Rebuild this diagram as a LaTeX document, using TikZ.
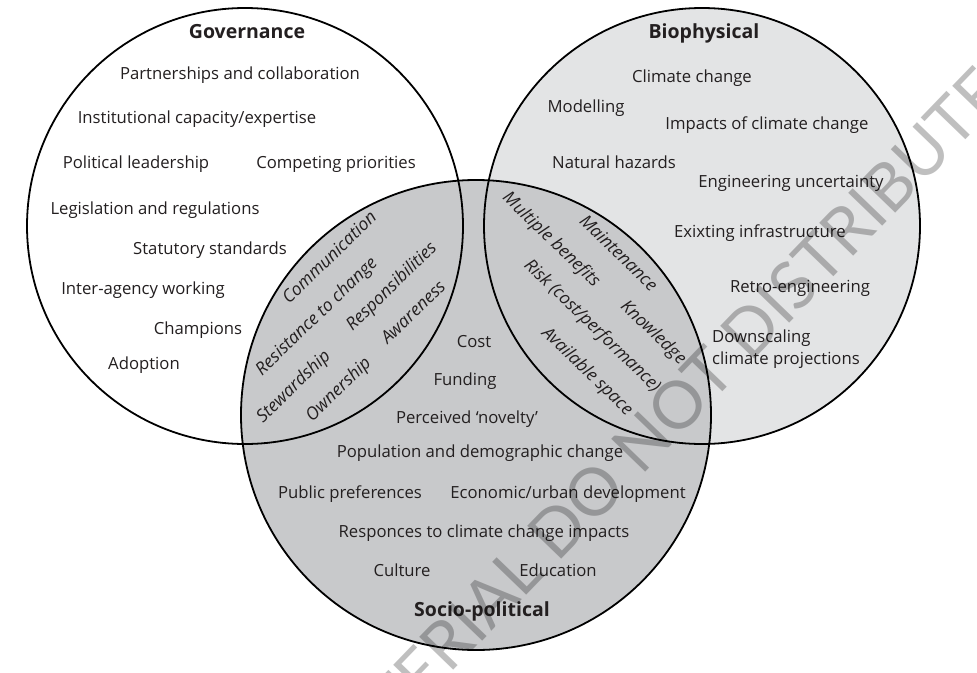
\documentclass[tikz,border=0pt]{standalone}
\usepackage{fontspec}
\setmainfont{Open Sans}
\newfontfamily\wmfont{Lato}
\definecolor{biofill}{HTML}{E3E4E5}
\definecolor{sociofill}{HTML}{C8C9CB}
\definecolor{txt}{HTML}{231F20}
\begin{document}
\begin{tikzpicture}[x=1pt,y=-1pt,
  ring/.style={draw=black, line width=1.8pt},
  lbl/.style={anchor=base, text=txt, inner sep=0pt, font=\fontsize{16.7}{20}\selectfont},
  head/.style={lbl, font=\fontsize{19.5}{23}\selectfont\bfseries},
  upslant/.style={anchor=center, text=txt, inner sep=0pt, rotate=44, font=\fontsize{17.5}{21}\selectfont\itshape},
  downslant/.style={anchor=center, text=txt, inner sep=0pt, rotate=-44, font=\fontsize{17.5}{21}\selectfont\itshape}
]
% canvas
\fill[white] (0,0) rectangle (977,672);
\useasboundingbox (0,0) rectangle (977,672);

% circle centres
\coordinate (govc) at (245,226);
\coordinate (bioc) at (702,226);
\coordinate (socc) at (476,415);

% fills, then outlines on top
\fill[white]     (govc) circle[radius=218pt];
\fill[biofill]   (bioc) circle[radius=218pt];
\fill[sociofill] (socc) circle[radius=235pt];
\draw[ring] (govc) circle[radius=218pt];
\draw[ring] (bioc) circle[radius=218pt];
\draw[ring] (socc) circle[radius=235pt];

% Governance
\node[head] (govt) at (247,38) {Governance};
\node[lbl] (g1) at (240,79) {Partnerships and collaboration};
\node[lbl] (g2) at (197,123) {Institutional capacity/expertise};
\node[lbl] (g3) at (136,168) {Political leadership};
\node[lbl] (g4) at (336,168) {Competing priorities};
\node[lbl] (g5) at (155,214) {Legislation and regulations};
\node[lbl] (g6) at (210,254) {Statutory standards};
\node[lbl] (g7) at (143,294) {Inter-agency working};
\node[lbl] (g8) at (198,334) {Champions};
\node[lbl] (g9) at (144,369) {Adoption};

% Biophysical
\node[head] (biot) at (704,38) {Biophysical};
\node[lbl] (b1) at (692,82) {Climate change};
\node[lbl] (b2) at (586,112) {Modelling};
\node[lbl] (b3) at (767,129) {Impacts of climate change};
\node[lbl] (b4) at (614,168) {Natural hazards};
\node[lbl] (b5) at (791,187) {Engineering uncertainty};
\node[lbl] (b6) at (760,237) {Exixting infrastructure};
\node[lbl] (b7) at (800,292) {Retro-engineering};
\node[lbl, anchor=base west] (b8) at (712,342) {Downscaling};
\node[lbl, anchor=base west] (b9) at (712,364) {climate projections};

% Socio-political
\node[lbl] (s1) at (474,347) {Cost};
\node[lbl] (s2) at (465,385) {Funding};
\node[lbl] (s3) at (467,423) {Perceived ‘novelty’};
\node[lbl] (s4) at (480,457) {Population and demographic change};
\node[lbl] (s5) at (350,498) {Public preferences};
\node[lbl] (s6) at (568,498) {Economic/urban development};
\node[lbl] (s7) at (484,537) {Responces to climate change impacts};
\node[lbl] (s8) at (402,576) {Culture};
\node[lbl] (s9) at (558,576) {Education};
\node[head] (soct) at (482,616) {Socio-political};

% Governance / Socio-political overlap
\node[upslant] (gs1) at (329,257) {Communication};
\node[upslant] (gs2) at (317,317) {Resistance to change};
\node[upslant] (gs3) at (392,287) {Responsibilities};
\node[upslant] (gs4) at (294,387) {Stewardship};
\node[upslant] (gs5) at (339,390) {Ownership};
\node[upslant] (gs6) at (413,312) {Awareness};

% Biophysical / Socio-political overlap
\node[downslant] (bs1) at (551,240) {Multiple benefits};
\node[downslant] (bs2) at (619,253) {Maintenance};
\node[downslant] (bs3) at (592,326) {Risk (cost/performance)};
\node[downslant] (bs4) at (653,333) {Knowledge};
\node[downslant] (bs5) at (587,372) {Available space};

% notice across the sheet
\node[anchor=base, rotate=46, inner sep=0pt, text=black, text opacity=0.25,
      font=\fontsize{66}{74}\wmfont] (wm) at (667,450) {MATERIAL DO NOT DISTRIBUTE};
\end{tikzpicture}
\end{document}
